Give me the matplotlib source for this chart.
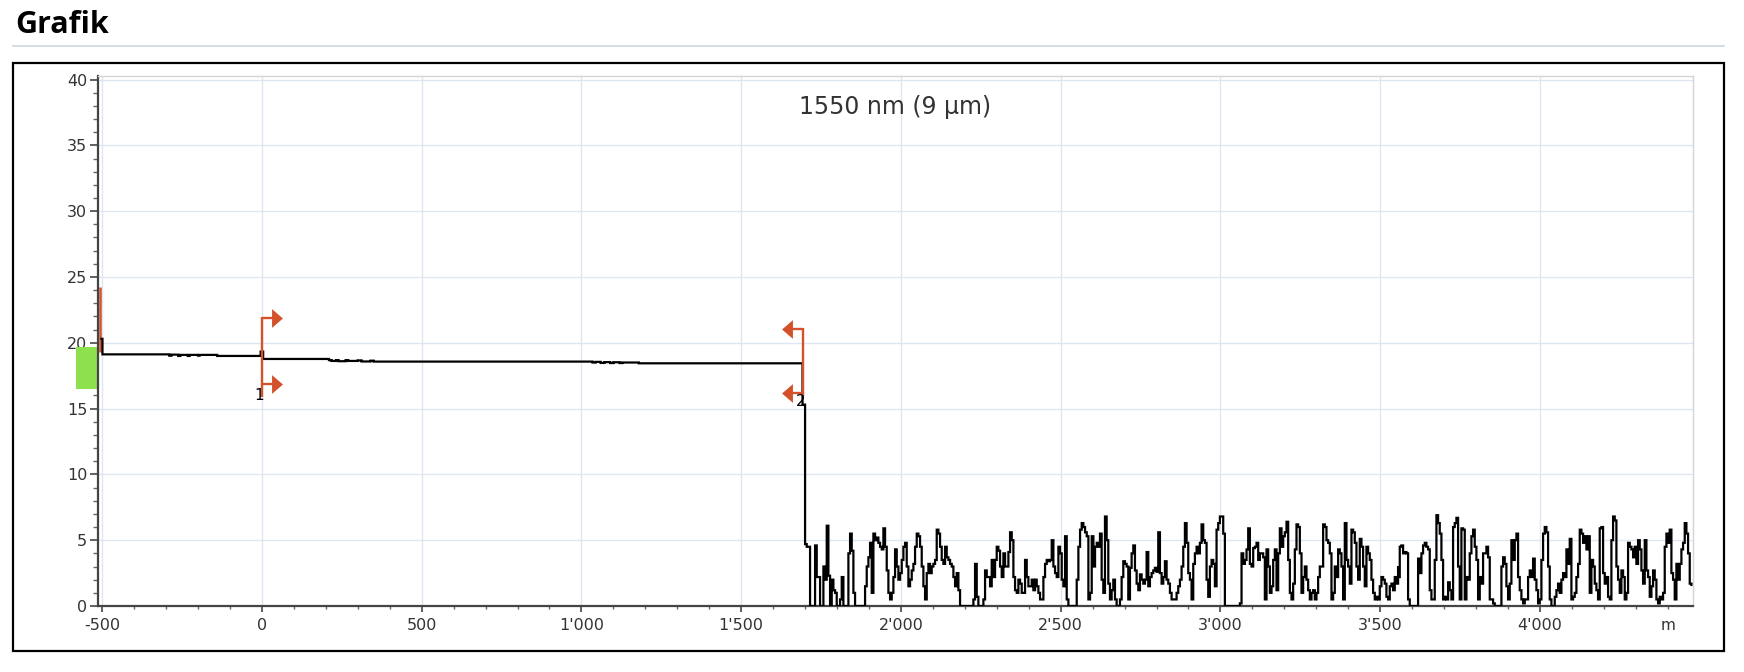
import numpy as np
import matplotlib
matplotlib.use("Agg")
import matplotlib.pyplot as plt
from matplotlib.ticker import MultipleLocator, FuncFormatter
from matplotlib.patches import Rectangle
from matplotlib.lines import Line2D
from matplotlib.path import Path
import matplotlib.transforms as mtransforms

# ---------------- data ----------------
title = "Grafik"
wavelength_label = "1550 nm (9 µm)"
x_unit = "m"

# fibre trace (distance in m, level in dB) before the fibre end
trace_dist = [-502, -499, -290, -283, -262, -255, -232, -226, -200, -195,
              -140, -4, 4, 210, 218, 232, 240, 262, 270, 300,
              312, 340, 350, 390, 1035, 1045, 1060, 1072, 1090, 1100,
              1120, 1128, 1180, 1692]
trace_level = [20.3, 19.12, 19.02, 19.1, 19.0, 19.08, 19.0, 19.08, 19.02, 19.08,
               19.0, 19.33, 18.77, 18.68, 18.62, 18.68, 18.6, 18.68, 18.62, 18.66,
               18.58, 18.64, 18.57, 18.57, 18.5, 18.55, 18.47, 18.53, 18.46, 18.52,
               18.46, 18.5, 18.44, 15.3]

# noise floor after the fibre end, read in three stretches
noise_a_range = (1700, 2618)
noise_a = [4.7, 4.5, 4.5, 0, 0, 0, 4.6, 2.2, 2.2, 0, 0, 3.0, 2.0, 6.1, 2.3, 0, 2.0, 1.2, 1.0, 0,
           0, 0.5, 2.2, 0, 0, 0, 4.0, 5.5, 4.2, 1.0, 0, 0, 0, 0, 0, 0, 1.5, 3.0, 3.7, 4.8,
           1.0, 5.5, 5.0, 5.2, 4.8, 4.5, 4.3, 5.9, 4.5, 2.7, 1.0, 0.5, 1.0, 2.2, 4.3, 3.0, 2.0, 2.5, 3.5, 4.5,
           4.8, 3.0, 1.5, 2.0, 2.7, 3.2, 4.5, 5.5, 5.3, 4.5, 3.0, 1.5, 0.5, 2.5, 3.2, 2.5, 3.0, 3.2, 3.5, 5.8,
           5.5, 4.5, 3.5, 3.2, 4.5, 3.7, 3.5, 3.2, 3.0, 2.2, 1.5, 2.5, 1.2, 0, 0, 0, 0, 0, 0, 0,
           0, 0.5, 3.2, 0.7, 0, 0, 0, 0.5, 2.7, 2.2, 2.2, 1.5, 3.5, 2.2, 3.5, 4.5, 4.2, 3.0, 2.2, 4.0,
           3.0, 3.0, 4.1, 5.6, 5.0, 2.2, 1.2, 1.0, 2.0, 1.7, 1.0, 1.0, 3.5, 2.2, 1.5, 1.5, 2.0, 1.2, 2.0, 1.5,
           1.0, 0.5, 0.5, 2.2, 3.2, 3.5, 3.4, 3.5, 5.0, 3.0, 2.5, 2.2, 4.5, 4.0, 2.0, 1.5, 5.3, 0.5, 0, 0,
           0, 0, 0, 2.0, 4.5, 5.8, 6.3, 6.0, 5.6, 5.3, 0.5, 1.0, 5.3, 3.0, 4.5, 4.8, 4.5]

noise_b_range = (2623, 3556)
noise_b = [5.5, 2.0, 1.0, 6.8, 5.0, 1.7, 0.5, 1.2, 2.0, 0.5, 0, 0, 0.5, 2.2, 3.4, 3.2, 3.0, 0.5, 2.9, 4.0,
           4.6, 2.7, 1.7, 1.2, 2.4, 2.0, 1.7, 2.0, 4.1, 1.5, 2.2, 2.5, 2.7, 2.9, 2.6, 5.6, 2.5, 1.7, 2.2, 3.4,
           2.0, 1.7, 1.0, 0.5, 0.5, 0.5, 1.0, 1.5, 2.0, 3.0, 4.5, 6.3, 4.8, 2.5, 2.0, 0.5, 3.2, 4.0, 4.5, 4.0,
           4.8, 6.2, 5.0, 4.8, 2.0, 0.7, 3.0, 3.5, 3.2, 1.5, 5.8, 6.3, 6.8, 6.8, 5.5, 0, 0, 0, 0, 0,
           0, 0, 0, 0, 0.2, 4.0, 3.2, 3.5, 4.3, 5.9, 3.2, 3.0, 4.4, 4.5, 4.8, 3.5, 4.0, 4.0, 3.7, 0.5,
           4.3, 3.0, 1.0, 1.5, 3.5, 4.3, 1.2, 4.0, 5.9, 4.5, 5.3, 5.6, 6.4, 3.5, 1.0, 0.5, 1.7, 4.3, 6.2, 6.0,
           4.0, 1.0, 2.2, 3.0, 2.0, 1.2, 0.5, 1.0, 1.2, 0.5, 1.0, 2.2, 3.0, 3.0, 6.2, 6.0, 5.0, 4.8, 4.0, 0.5,
           1.0, 3.0, 2.2, 4.3, 4.0, 3.0, 0.5, 6.3, 3.5, 3.0, 1.7, 5.8, 5.6, 4.8, 3.0, 2.0, 5.1, 4.5, 3.0, 1.5,
           4.5, 4.0, 3.5, 2.0, 1.0, 0.5, 0.7, 0.5, 1.5, 2.2, 2.0, 1.7, 0.7, 0.5, 1.5, 1.7, 1.2, 2.2, 1.7, 3.0]

noise_c_range = (3556, 4474)
noise_c = [2.2, 4.5, 4.6, 4.0, 4.1, 4.0, 0.5, 0, 0, 0, 0, 0, 3.6, 2.5, 4.0, 4.6, 4.8, 4.5, 4.3, 1.2,
           0.5, 0.5, 3.5, 6.9, 6.3, 5.5, 3.5, 0.5, 0.7, 0.5, 1.8, 1.2, 0.5, 6.0, 6.3, 6.7, 3.0, 0.5, 5.9, 5.8,
           0.5, 2.2, 2.0, 4.0, 5.3, 5.8, 4.5, 3.5, 0.5, 2.2, 1.7, 4.0, 4.0, 4.5, 3.7, 0.5, 0.5, 0.2, 0, 0,
           0, 0, 3.0, 3.7, 3.2, 1.5, 0.5, 1.7, 5.0, 3.5, 5.0, 5.5, 2.2, 1.2, 0.5, 0.2, 0.5, 0.5, 2.2, 2.7,
           2.2, 3.6, 2.0, 1.2, 0.2, 0.5, 3.5, 5.5, 6.0, 5.6, 3.0, 0.5, 0, 0, 0.7, 1.2, 1.7, 1.0, 2.0, 2.5,
           2.2, 4.3, 3.2, 5.1, 0.5, 0.7, 1.0, 2.2, 3.2, 5.8, 5.5, 4.8, 5.3, 4.3, 5.3, 1.0, 3.5, 3.0, 1.7, 1.2,
           0.5, 5.9, 6.0, 2.5, 1.7, 2.2, 0.7, 0.5, 5.0, 6.8, 6.5, 3.0, 2.0, 1.0, 2.7, 2.2, 0.5, 1.0, 4.8, 4.5,
           4.3, 3.7, 4.5, 3.2, 5.0, 4.3, 2.7, 1.7, 5.0, 2.7, 2.2, 0.7, 1.5, 2.7, 2.0, 0.5, 0.2, 0.7, 0.5, 1.0,
           4.5, 5.5, 4.8, 5.8, 2.5, 2.0, 0.5, 3.2, 2.0, 3.2, 4.3, 4.8, 6.3, 5.5, 4.0, 1.7, 1.6]

# event markers
marker_dist = [0, 1692]
marker_names = ["1", "2"]
marker_dir = [1, -1]            # arrows point right for 1, left for 2
marker_top = [21.9, 21.05]
marker_bottom = [16.9, 16.15]
marker_line_low = [15.9, 15.95]
marker_label_pos = [(-9, 16.0), (1687, 15.55)]

launch_marker_dist = -506
launch_marker_range = (19.3, 24.2)
green_band = (16.5, 19.7)

x_major = 500
x_minor = 100
y_major = 5
y_minor = 1
x_limits = (-512, 4479)
y_limits = (0, 40.27)

# ---------------- figure ----------------
W, H = 1744, 672
fig = plt.figure(figsize=(W / 100, H / 100), dpi=100)
fig.patch.set_facecolor("white")

red = "#d4522b"
txt = "#333333"

# page title + separator + frame
fig.text(15 / W, 1 - 33 / H, title, fontsize=22, fontweight="bold",
         family=["Open Sans", "DejaVu Sans"], color="black", va="baseline", ha="left")
fig.add_artist(Line2D([13 / W, 1724 / W], [1 - 46 / H, 1 - 46 / H],
                      color="#c9d9dd", lw=1.2, transform=fig.transFigure))
fig.add_artist(Rectangle((13 / W, 1 - 651 / H), (1724 - 13) / W, (651 - 63) / H,
                         fill=False, edgecolor="black", lw=1.6, transform=fig.transFigure))

ax = fig.add_axes([98.3 / W, 1 - 606 / H, (1693 - 98.3) / W, (606 - 76) / H])
ax.set_xlim(*x_limits)
ax.set_ylim(*y_limits)

# grid
ax.xaxis.set_major_locator(MultipleLocator(x_major))
ax.xaxis.set_minor_locator(MultipleLocator(x_minor))
ax.yaxis.set_major_locator(MultipleLocator(y_major))
ax.yaxis.set_minor_locator(MultipleLocator(y_minor))
ax.grid(True, which="major", color="#dde6f2", lw=1.0, zorder=0)
ax.set_axisbelow(True)

ax.xaxis.set_major_formatter(FuncFormatter(lambda v, p: f"{int(round(v)):,}".replace(",", "'")))
ax.yaxis.set_major_formatter(FuncFormatter(lambda v, p: f"{int(round(v))}"))

for s in ("left", "bottom"):
    ax.spines[s].set_color("#444444")
    ax.spines[s].set_linewidth(1.6)
for s in ("top", "right"):
    ax.spines[s].set_color("#d4d4d4")
    ax.spines[s].set_linewidth(1.0)

ax.tick_params(axis="x", which="major", length=4, width=1.3, color="#555555",
               labelsize=11.5, labelcolor=txt, pad=5)
ax.tick_params(axis="x", which="minor", length=2.5, width=1.0, color="#666666")
ax.tick_params(axis="y", which="major", length=6, width=1.3, color="#555555",
               labelsize=11.5, labelcolor=txt, pad=2)
ax.tick_params(axis="y", which="minor", length=3.6, width=1.0, color="#666666")

# unit label at the last minor tick
ax.annotate(x_unit, xy=(4400, 0), xycoords=("data", "axes fraction"),
            xytext=(0, -9), textcoords="offset points", ha="center", va="top",
            fontsize=11, color=txt, annotation_clip=False)

# green band left of the axis
band_tr = mtransforms.blended_transform_factory(fig.transFigure, ax.transData)
ax.add_patch(Rectangle((76 / W, green_band[0]), 21 / W, green_band[1] - green_band[0],
                       transform=band_tr, facecolor="#8fe04f", edgecolor="none",
                       clip_on=False, zorder=1))

# trace
xa = np.linspace(noise_a_range[0], noise_a_range[1], len(noise_a))
xb = np.linspace(noise_b_range[0], noise_b_range[1], len(noise_b))
xc = np.linspace(noise_c_range[0], noise_c_range[1], len(noise_c))
all_x = np.concatenate([trace_dist, xa, xb, xc])
all_y = np.concatenate([trace_level, noise_a, noise_b, noise_c])
ax.plot(all_x, all_y, drawstyle="steps-post", color="black", lw=1.6, zorder=3,
        solid_joinstyle="miter")

# launch marker (red line at start)
ax.plot([launch_marker_dist, launch_marker_dist], launch_marker_range,
        color=red, lw=1.8, zorder=2, solid_capstyle="butt")

# event markers
tri_right = Path([(-0.58, 1), (0.58, 0), (-0.58, -1), (-0.58, 1)],
                 [Path.MOVETO, Path.LINETO, Path.LINETO, Path.CLOSEPOLY])
tri_left = Path([(0.58, 1), (-0.58, 0), (0.58, -1), (0.58, 1)],
                [Path.MOVETO, Path.LINETO, Path.LINETO, Path.CLOSEPOLY])
for d, name, dr, top, bot, low, (lx, ly) in zip(marker_dist, marker_names, marker_dir,
                                               marker_top, marker_bottom, marker_line_low,
                                               marker_label_pos):
    ax.plot([d, d], [low, top + 0.05], color=red, lw=1.7, zorder=4, solid_capstyle="butt")
    for ya in (top, bot):
        ax.plot([d, d + dr * 36], [ya, ya], color=red, lw=1.7, zorder=4, solid_capstyle="butt")
        ax.plot([d + dr * 48], [ya], marker=tri_right if dr > 0 else tri_left,
                markersize=13.5, color=red, markeredgecolor="none", zorder=4)
    ax.text(lx, ly, name, ha="center", va="center", fontsize=11, color="black", zorder=5)

# wavelength label
ax.text(1681, 37.4, wavelength_label, ha="left", va="baseline", fontsize=17, color=txt)

fig.savefig("out.png", dpi=100, facecolor="white")
